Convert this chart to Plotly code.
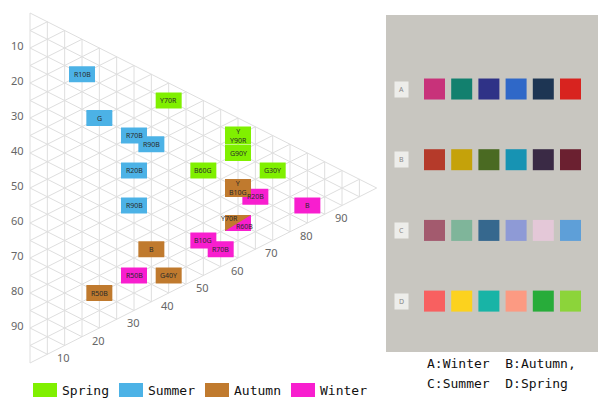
import plotly.graph_objects as go

# ---- data ----
seasons = ["Spring", "Summer", "Autumn", "Winter"]
season_colors = ["#80f000", "#4cb2e6", "#c07a2e", "#f81ecf"]

# hue boxes placed on the NCS triangle (blackness s, chromaticness c), drawn in this order
box_labels = ["Y<br>Y90R", "G90Y", "Y70R", "B60G", "G30Y",
              "R10B", "G", "R70B", "R90B", "R20B", "R90B",
              "R20B", "B", "B10G", "R70B", "R50B",
              "Y<br>B10G", "B", "G40Y", "R50B"]
box_season = ["Spring"] * 5 + ["Summer"] * 6 + ["Winter"] * 5 + ["Autumn"] * 4
box_blackness = [5, 10, 5, 20, 10, 10, 20, 20, 20, 30, 40, 20, 15, 40, 40, 60, 20, 50, 55, 70]
box_chroma = [60, 60, 40, 50, 70, 15, 20, 30, 35, 30, 30, 65, 80, 50, 55, 30, 60, 35, 40, 20]

# one box shared by two seasons (split diagonally)
split_labels = ["Y70R", "R60B"]
split_seasons = ["Autumn", "Winter"]
split_blackness = 30
split_chroma = 60

scale_ticks = [10, 20, 30, 40, 50, 60, 70, 80, 90]

# photographed colour cards
card_rows = ["A", "B", "C", "D"]
card_A = ["#c8327a", "#12806e", "#2f3287", "#2f68c8", "#1d3553", "#d8231f"]
card_B = ["#b53a2a", "#c5a20a", "#4a6a22", "#1793b3", "#3a2a45", "#6b2030"]
card_C = ["#a35a6e", "#7fb59a", "#36688e", "#8e9ad6", "#e4c8d8", "#5e9fd8"]
card_D = ["#f86060", "#fcd21e", "#18b4a6", "#fc9a82", "#28ac3a", "#8cd43a"]
caption = ["A:Winter  B:Autumn,", "C:Summer  D:Spring"]

W, H = 604, 398
color_of = dict(zip(seasons, season_colors))


def proj(s, c):
    # triangle: white top-left, black bottom-left, full colour at the right apex
    return c, s + c / 2


fig = go.Figure()

# grid of the triangle (every 5 units, three directions)
gx, gy = [], []
for k in range(0, 100, 5):
    # chromaticness c = k (vertical)
    x0, y0 = proj(0, k); x1, y1 = proj(100 - k, k)
    gx += [x0, x1, None]; gy += [y0, y1, None]
    # blackness s = k
    x0, y0 = proj(k, 0); x1, y1 = proj(k, 100 - k)
    gx += [x0, x1, None]; gy += [y0, y1, None]
    # whiteness w = k
    x0, y0 = proj(100 - k, 0); x1, y1 = proj(0, 100 - k)
    gx += [x0, x1, None]; gy += [y0, y1, None]
fig.add_trace(go.Scatter(x=gx, y=gy, mode="lines", line=dict(color="#dedede", width=1),
                         hoverinfo="skip", showlegend=False))

shapes = []
annotations = []
BW, BH = 13, 8
box_font = dict(family="Noto Sans", size=7, color="#2a2a2a")

for lab, sea, s, c in zip(box_labels, box_season, box_blackness, box_chroma):
    x, y = proj(s, c)
    h = BH + 1 if "<br>" in lab else BH
    shapes.append(dict(type="rect", xref="x", yref="y", xsizemode="pixel", ysizemode="pixel",
                       xanchor=x, yanchor=y, x0=-BW, x1=BW, y0=-h, y1=h,
                       fillcolor=color_of[sea], line_width=0))
    annotations.append(dict(x=x, y=y, xref="x", yref="y", text=lab, showarrow=False,
                            font=box_font))

sx, sy = proj(split_blackness, split_chroma)
shapes.append(dict(type="rect", xref="x", yref="y", xsizemode="pixel", ysizemode="pixel",
                   xanchor=sx, yanchor=sy, x0=-BW, x1=BW, y0=-BH, y1=BH,
                   fillcolor=color_of[split_seasons[1]], line_width=0))
shapes.append(dict(type="path", xref="x", yref="y", xsizemode="pixel", ysizemode="pixel",
                   xanchor=sx, yanchor=sy, path=f"M{-BW},{BH}L{BW},{BH}L{-BW},{-BH}Z",
                   fillcolor=color_of[split_seasons[0]], line_width=0))
annotations.append(dict(x=sx, y=sy, xref="x", yref="y", text=split_labels[0], showarrow=False,
                        xshift=-9, yshift=5, font=box_font))
annotations.append(dict(x=sx, y=sy, xref="x", yref="y", text=split_labels[1], showarrow=False,
                        xshift=6, yshift=-3, font=box_font))

# scale labels
for t in scale_ticks:
    x, y = proj(t, 0)
    annotations.append(dict(x=x, y=y, xref="x", yref="y", text=str(t), showarrow=False,
                            xanchor="right", xshift=-4, yshift=3,
                            font=dict(family="Noto Sans", size=11, color="#666")))
    x, y = proj(100 - t, t)
    annotations.append(dict(x=x, y=y, xref="x", yref="y", text=str(t), showarrow=False,
                            xshift=-1, yshift=-12,
                            font=dict(family="Noto Sans", size=11, color="#666")))

# legend
for i, (sea, col) in enumerate(zip(seasons, season_colors)):
    bx = 33 + 86 * i
    shapes.append(dict(type="rect", xref="paper", yref="paper",
                       x0=bx / W, x1=(bx + 24) / W, y0=1 - 397 / H, y1=1 - 383 / H,
                       fillcolor=col, line_width=0))
    annotations.append(dict(x=(bx + 27) / W, y=1 - 390 / H, xref="paper", yref="paper",
                            text=sea, showarrow=False, xanchor="left", yanchor="middle",
                            font=dict(family="DejaVu Sans Mono", size=13, color="#111")))

# photo panel with colour cards
shapes.append(dict(type="rect", xref="x2 domain", yref="y2 domain", x0=0, x1=1, y0=0, y1=1,
                   fillcolor="#c8c6c0", line_width=0, layer="below"))
for r, (row, cols) in enumerate(zip(card_rows, [card_A, card_B, card_C, card_D])):
    fig.add_trace(go.Scatter(x=list(range(1, 7)), y=[r] * 6, mode="markers",
                             marker=dict(symbol="square", size=21, color=cols, line_width=0),
                             xaxis="x2", yaxis="y2", showlegend=False, hoverinfo="skip"))
    annotations.append(dict(x=-0.21, y=r, xref="x2", yref="y2", text=row, showarrow=False,
                            bgcolor="#ededea", width=11, height=13,
                            font=dict(family="Noto Sans", size=7, color="#888")))

for i, line in enumerate(caption):
    annotations.append(dict(x=425 / W, y=1 - (363 + 20 * i) / H, xref="paper", yref="paper",
                            text=line.replace(" ", "&nbsp;"), showarrow=False,
                            xanchor="left", yanchor="middle",
                            font=dict(family="DejaVu Sans Mono", size=13, color="#111")))

PXC, PXY = 3.467, 3.5
xr0 = -30 / PXC
yr_top = -13 / PXY
fig.update_layout(
    width=W, height=H, margin=dict(l=0, r=0, t=0, b=0),
    paper_bgcolor="white", plot_bgcolor="rgba(0,0,0,0)",
    showlegend=False,
    xaxis=dict(domain=[0, 1], range=[xr0, xr0 + W / PXC], visible=False),
    yaxis=dict(domain=[0, 1], range=[yr_top + H / PXY, yr_top], visible=False),
    xaxis2=dict(domain=[386 / W, 598 / W], range=[-0.783, 7.011], visible=False, anchor="y2"),
    yaxis2=dict(domain=[1 - 352 / H, 1 - 15 / H], range=[3.72, -1.047], visible=False, anchor="x2"),
    shapes=shapes, annotations=annotations,
)

fig.write_html("out.html", config={"displayModeBar": False},
               post_script="document.body.style.margin='0';document.body.style.overflow='hidden';")
